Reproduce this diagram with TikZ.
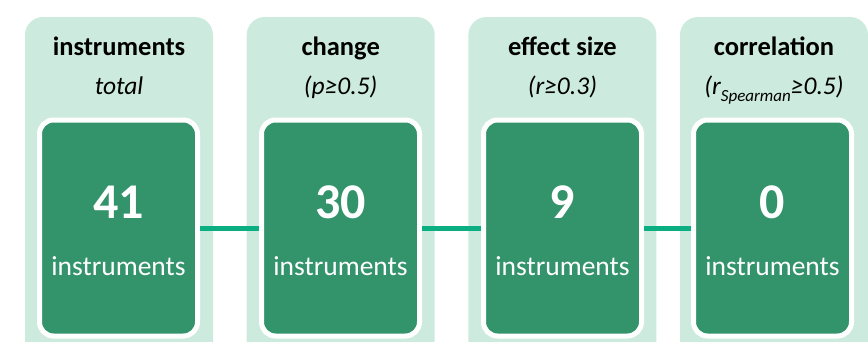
\documentclass[tikz,border=0pt]{standalone}
\usepackage{fontspec}
\setmainfont{Carlito}
\definecolor{panelfill}{RGB}{204,235,222}
\definecolor{boxfill}{RGB}{51,148,108}
\definecolor{linkcol}{RGB}{10,174,128}
\newcommand{\subtxt}[1]{\raisebox{-0.28em}{\fontsize{17}{20}\selectfont #1}}
\begin{document}
\begin{tikzpicture}[x=1pt,y=-1pt,
  panel/.style={fill=panelfill, rounded corners=18pt, minimum width=188pt,
    minimum height=360pt, inner sep=0pt, outer sep=0pt, anchor=north},
  countbox/.style={fill=boxfill, draw=white, line width=5pt, rounded corners=14pt,
    minimum width=158pt, minimum height=216pt, inner sep=0pt},
  title/.style={anchor=base, inner sep=0pt, font=\fontsize{26.5}{30}\selectfont\bfseries},
  crit/.style={anchor=base, inner sep=0pt, font=\fontsize{25.5}{30}\selectfont\itshape},
  num/.style={anchor=base, inner sep=0pt, text=white, font=\fontsize{50}{56}\selectfont\bfseries},
  unit/.style={anchor=base, inner sep=0pt, text=white, font=\fontsize{27.5}{32}\selectfont},
  link/.style={draw=linkcol, line width=5pt}]
\useasboundingbox (0,0) rectangle (868,341);
\clip (0,0) rectangle (868,341);

% stage panels
\node[panel] (p1) at (119,17) {};
\node[panel] (p2) at (340.7,17) {};
\node[panel] (p3) at (562.4,17) {};
\node[panel] (p4) at (774,17) {};

% stage headings
\node[title] (h1) at (119,55) {instruments};
\node[crit]  (c1) at (119,94.5) {total};
\node[title] (h2) at (340.7,55) {change};
\node[crit]  (c2) at (340.7,94.5) {(p≥0.5)};
\node[title] (h3) at (562.4,55) {effect size};
\node[crit]  (c3) at (562.4,94.5) {(r≥0.3)};
\node[title] (h4) at (774,55) {correlation};
\node[crit]  (c4) at (774,94.5) {(r\subtxt{Spearman}≥0.5)};

% count boxes
\node[countbox] (b1) at (118.5,228) {};
\node[countbox] (b2) at (340.5,228) {};
\node[countbox] (b3) at (562.5,228) {};
\node[countbox] (b4) at (772.5,228) {};

% links between stages
\draw[link] (b1.east) -- (b2.west);
\draw[link] (b2.east) -- (b3.west);
\draw[link] (b3.east) -- (b4.west);

% counts
\node[num]  (n1) at (118.5,218) {41};
\node[unit] (u1) at (118.5,275) {instruments};
\node[num]  (n2) at (340.5,218) {30};
\node[unit] (u2) at (340.5,275) {instruments};
\node[num]  (n3) at (562.5,218) {9};
\node[unit] (u3) at (562.5,275) {instruments};
\node[num]  (n4) at (772.5,218) {0};
\node[unit] (u4) at (772.5,275) {instruments};
\end{tikzpicture}
\end{document}
